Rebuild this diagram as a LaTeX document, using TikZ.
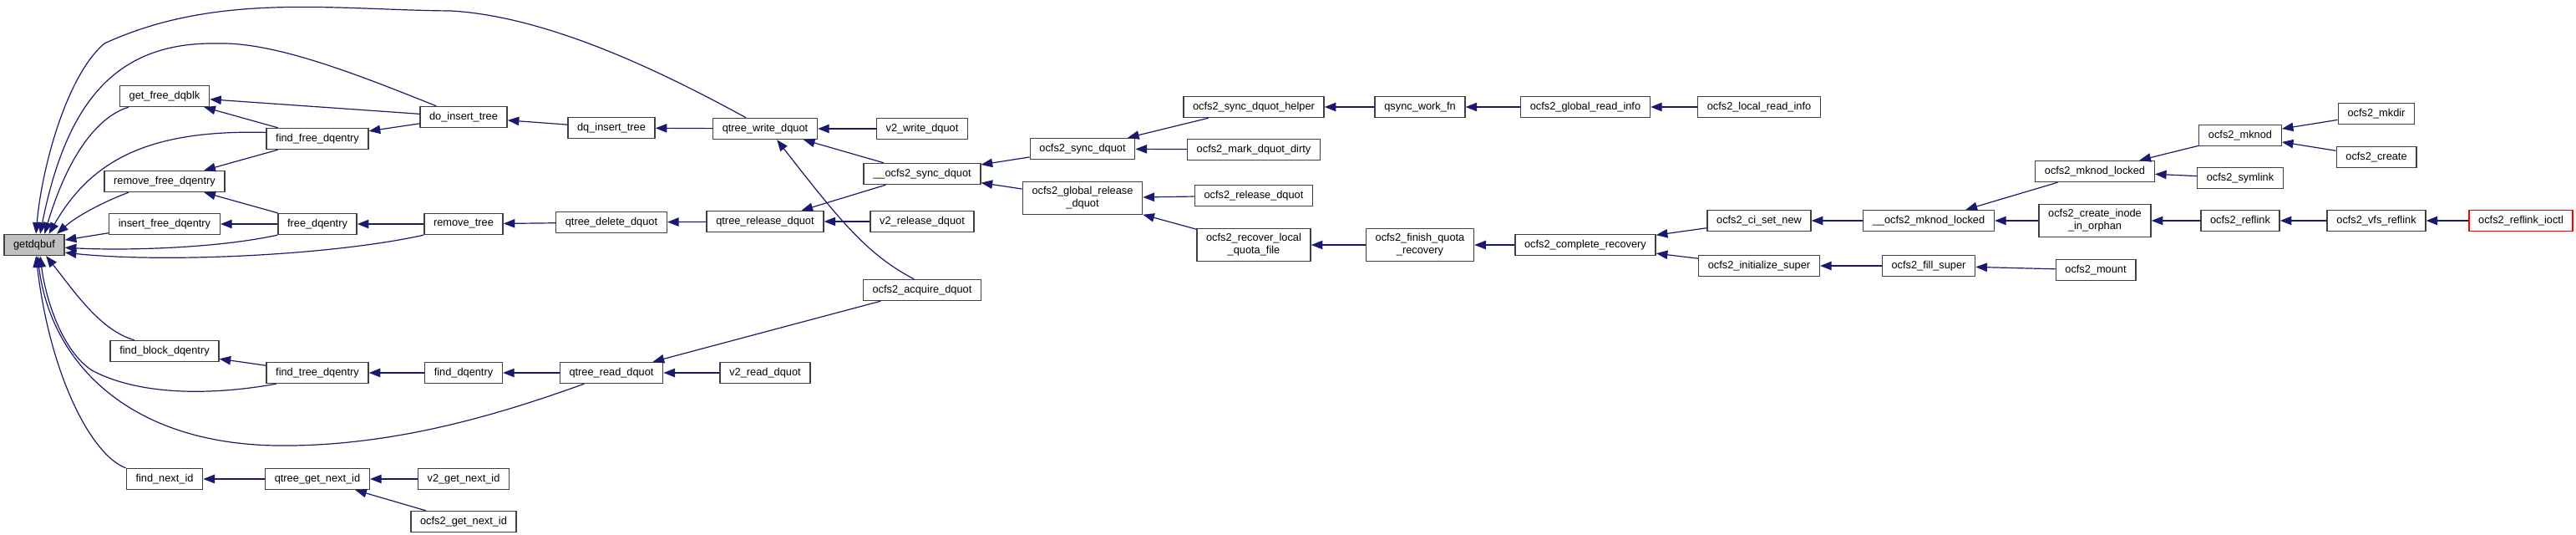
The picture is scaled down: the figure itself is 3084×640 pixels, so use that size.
\documentclass[tikz,border=0pt]{standalone}
\usepackage{fontspec}
\setmainfont{Liberation Sans}
\usepackage{tikz}
\usetikzlibrary{arrows.meta, positioning}
\definecolor{callblue}{RGB}{25,25,112}
\definecolor{boxgray}{RGB}{64,64,64}
\definecolor{rootfill}{RGB}{191,191,191}
\definecolor{focusred}{RGB}{255,0,0}

\begin{document}
\begin{tikzpicture}[
        x=0.25mm, y=-0.25mm,
        fn/.style={rectangle, draw=boxgray, line width=0.35mm, fill=white, minimum height=6.25mm, inner xsep=2.8mm, inner ysep=1.5mm, align=center, font=\fontsize{9.1}{10.8}\selectfont},
        calls/.style={-{Triangle[length=3.4mm, width=2.6mm]}, line width=0.3mm, callblue}
    ]
        \useasboundingbox (0,0) rectangle (3084,640);

        \node[fn, fill=rootfill]      (getdqbuf)     at (41,293)   {getdqbuf};
        \node[fn]                     (getfree)      at (197,115)  {get\_free\_dqblk};
        \node[fn]                     (removefree)   at (197,217)  {remove\_free\_dqentry};
        \node[fn]                     (insertfree)   at (197,268)  {insert\_free\_dqentry};
        \node[fn]                     (findblock)    at (197,420)  {find\_block\_dqentry};
        \node[fn]                     (findnext)     at (197,573)  {find\_next\_id};
        \node[fn]                     (findfree)     at (380,166)  {find\_free\_dqentry};
        \node[fn]                     (freeentry)    at (380,268)  {free\_dqentry};
        \node[fn]                     (findtree)     at (380,446)  {find\_tree\_dqentry};
        \node[fn]                     (qgetnext)     at (380,573)  {qtree\_get\_next\_id};
        \node[fn]                     (doinsert)     at (555,140)  {do\_insert\_tree};
        \node[fn]                     (removetree)   at (555,268)  {remove\_tree};
        \node[fn]                     (finddq)       at (555,446)  {find\_dqentry};
        \node[fn]                     (v2getnext)    at (555,573)  {v2\_get\_next\_id};
        \node[fn]                     (ocgetnext)    at (555,624)  {ocfs2\_get\_next\_id};
        \node[fn]                     (dqinsert)     at (732,153)  {dq\_insert\_tree};
        \node[fn]                     (qdelete)      at (732,266)  {qtree\_delete\_dquot};
        \node[fn]                     (qread)        at (732,446)  {qtree\_read\_dquot};
        \node[fn]                     (qwrite)       at (916,154)  {qtree\_write\_dquot};
        \node[fn]                     (qrelease)     at (916,265)  {qtree\_release\_dquot};
        \node[fn]                     (v2read)       at (916,446)  {v2\_read\_dquot};
        \node[fn]                     (v2write)      at (1104,154) {v2\_write\_dquot};
        \node[fn]                     (ocsyncint)    at (1104,208) {\_\_ocfs2\_sync\_dquot};
        \node[fn]                     (v2release)    at (1104,265) {v2\_release\_dquot};
        \node[fn]                     (acquire)      at (1104,347) {ocfs2\_acquire\_dquot};
        \node[fn]                     (ocsync)       at (1296,178) {ocfs2\_sync\_dquot};
        \node[fn]                     (globrel)      at (1296,237) {ocfs2\_global\_release\\\_dquot};
        \node[fn]                     (synchelper)   at (1501,128) {ocfs2\_sync\_dquot\_helper};
        \node[fn]                     (markdirty)    at (1501,179) {ocfs2\_mark\_dquot\_dirty};
        \node[fn]                     (reldquot)     at (1501,234) {ocfs2\_release\_dquot};
        \node[fn]                     (recover)      at (1501,293) {ocfs2\_recover\_local\\\_quota\_file};
        \node[fn]                     (qsync)        at (1700,128) {qsync\_work\_fn};
        \node[fn]                     (finishrec)    at (1700,293) {ocfs2\_finish\_quota\\\_recovery};
        \node[fn]                     (globread)     at (1898,128) {ocfs2\_global\_read\_info};
        \node[fn]                     (completerec)  at (1898,293) {ocfs2\_complete\_recovery};
        \node[fn]                     (localread)    at (2106,128) {ocfs2\_local\_read\_info};
        \node[fn]                     (cisetnew)     at (2106,264) {ocfs2\_ci\_set\_new};
        \node[fn]                     (initsuper)    at (2106,318) {ocfs2\_initialize\_super};
        \node[fn]                     (mknodint)     at (2309,264) {\_\_ocfs2\_mknod\_locked};
        \node[fn]                     (fillsuper)    at (2309,318) {ocfs2\_fill\_super};
        \node[fn]                     (mknodlocked)  at (2508,205) {ocfs2\_mknod\_locked};
        \node[fn]                     (createorphan) at (2508,264) {ocfs2\_create\_inode\\\_in\_orphan};
        \node[fn]                     (mount)        at (2509,323) {ocfs2\_mount};
        \node[fn]                     (mknod)        at (2682,162) {ocfs2\_mknod};
        \node[fn]                     (symlink)      at (2682,213) {ocfs2\_symlink};
        \node[fn]                     (reflink)      at (2682,264) {ocfs2\_reflink};
        \node[fn]                     (mkdir)        at (2845,136) {ocfs2\_mkdir};
        \node[fn]                     (create)       at (2845,188) {ocfs2\_create};
        \node[fn]                     (vfsreflink)   at (2845,264) {ocfs2\_vfs\_reflink};
        \node[fn, draw=focusred]      (ioctl)        at (3018,264) {ocfs2\_reflink\_ioctl};

        % callers of getdqbuf
        \draw[calls] (qwrite.150) .. controls (800,90) and (660,20) .. (540,13)
            .. controls (400,12) and (260,-10) .. (125,52)
            .. controls (80,90) and (50,200) .. (getdqbuf.81);
        \draw[calls] (doinsert.158) .. controls (430,90) and (330,50) .. (260,52)
            .. controls (140,50) and (80,120) .. (getdqbuf.62);
        \draw[calls] (getfree.197) .. controls (115,140) and (80,190) .. (getdqbuf.47);
        \draw[calls] (findfree.173) .. controls (180,155) and (110,190) .. (getdqbuf.37);
        \draw[calls] (removefree.197) .. controls (120,243) and (90,260) .. (getdqbuf.26);
        \draw[calls] (insertfree) -- (getdqbuf);
        \draw[calls] (freeentry.south west) .. controls (260,297) and (150,300) .. (getdqbuf.-5);
        \draw[calls] (removetree.south west) .. controls (400,305) and (200,315) .. (getdqbuf.-14);
        \draw[calls] (findblock.160) .. controls (120,395) and (90,350) .. (getdqbuf.-43);
        \draw[calls] (findtree.195) .. controls (260,472) and (170,475) .. (110,443)
            .. controls (75,420) and (55,360) .. (getdqbuf.-62);
        \draw[calls] (qread.202) .. controls (600,495) and (470,535) .. (330,533)
            .. controls (150,530) and (60,430) .. (getdqbuf.-73);
        \draw[calls] (findnext.north west) .. controls (110,545) and (60,450) .. (getdqbuf.-81);

        % quota tree
        \draw[calls] (doinsert)   -- (getfree);
        \draw[calls] (findfree)   -- (getfree);
        \draw[calls] (doinsert)   -- (findfree);
        \draw[calls] (findfree)   -- (removefree);
        \draw[calls] (freeentry)  -- (removefree);
        \draw[calls] (freeentry)  -- (insertfree);
        \draw[calls] (removetree) -- (freeentry);
        \draw[calls] (findtree)   -- (findblock);
        \draw[calls] (finddq)     -- (findtree);
        \draw[calls] (qgetnext)   -- (findnext);
        \draw[calls] (v2getnext)  -- (qgetnext);
        \draw[calls] (ocgetnext)  -- (qgetnext);
        \draw[calls] (dqinsert)   -- (doinsert);
        \draw[calls] (qdelete)    -- (removetree);
        \draw[calls] (qread)      -- (finddq);
        \draw[calls] (qwrite)     -- (dqinsert);
        \draw[calls] (qrelease)   -- (qdelete);
        \draw[calls] (v2read)     -- (qread);
        \draw[calls] (v2write)    -- (qwrite);
        \draw[calls] (ocsyncint)  -- (qwrite);
        \draw[calls] (acquire.127) .. controls (1040,305) and (1010,270) .. (qwrite.-43);
        \draw[calls] (ocsyncint)  -- (qrelease);
        \draw[calls] (v2release)  -- (qrelease);
        \draw[calls] (acquire)    -- (qread);

        % ocfs2 side
        \draw[calls] (ocsync)       -- (ocsyncint);
        \draw[calls] (globrel)      -- (ocsyncint);
        \draw[calls] (synchelper)   -- (ocsync);
        \draw[calls] (markdirty)    -- (ocsync);
        \draw[calls] (reldquot)     -- (globrel);
        \draw[calls] (recover)      -- (globrel);
        \draw[calls] (qsync)        -- (synchelper);
        \draw[calls] (globread)     -- (qsync);
        \draw[calls] (localread)    -- (globread);
        \draw[calls] (finishrec)    -- (recover);
        \draw[calls] (completerec)  -- (finishrec);
        \draw[calls] (cisetnew)     -- (completerec);
        \draw[calls] (initsuper)    -- (completerec);
        \draw[calls] (mknodint)     -- (cisetnew);
        \draw[calls] (fillsuper)    -- (initsuper);
        \draw[calls] (mknodlocked)  -- (mknodint);
        \draw[calls] (createorphan) -- (mknodint);
        \draw[calls] (mount)        -- (fillsuper);
        \draw[calls] (mknod)        -- (mknodlocked);
        \draw[calls] (symlink)      -- (mknodlocked);
        \draw[calls] (reflink)      -- (createorphan);
        \draw[calls] (mkdir)        -- (mknod);
        \draw[calls] (create)       -- (mknod);
        \draw[calls] (vfsreflink)   -- (reflink);
        \draw[calls] (ioctl)        -- (vfsreflink);
    \end{tikzpicture}
\end{document}
